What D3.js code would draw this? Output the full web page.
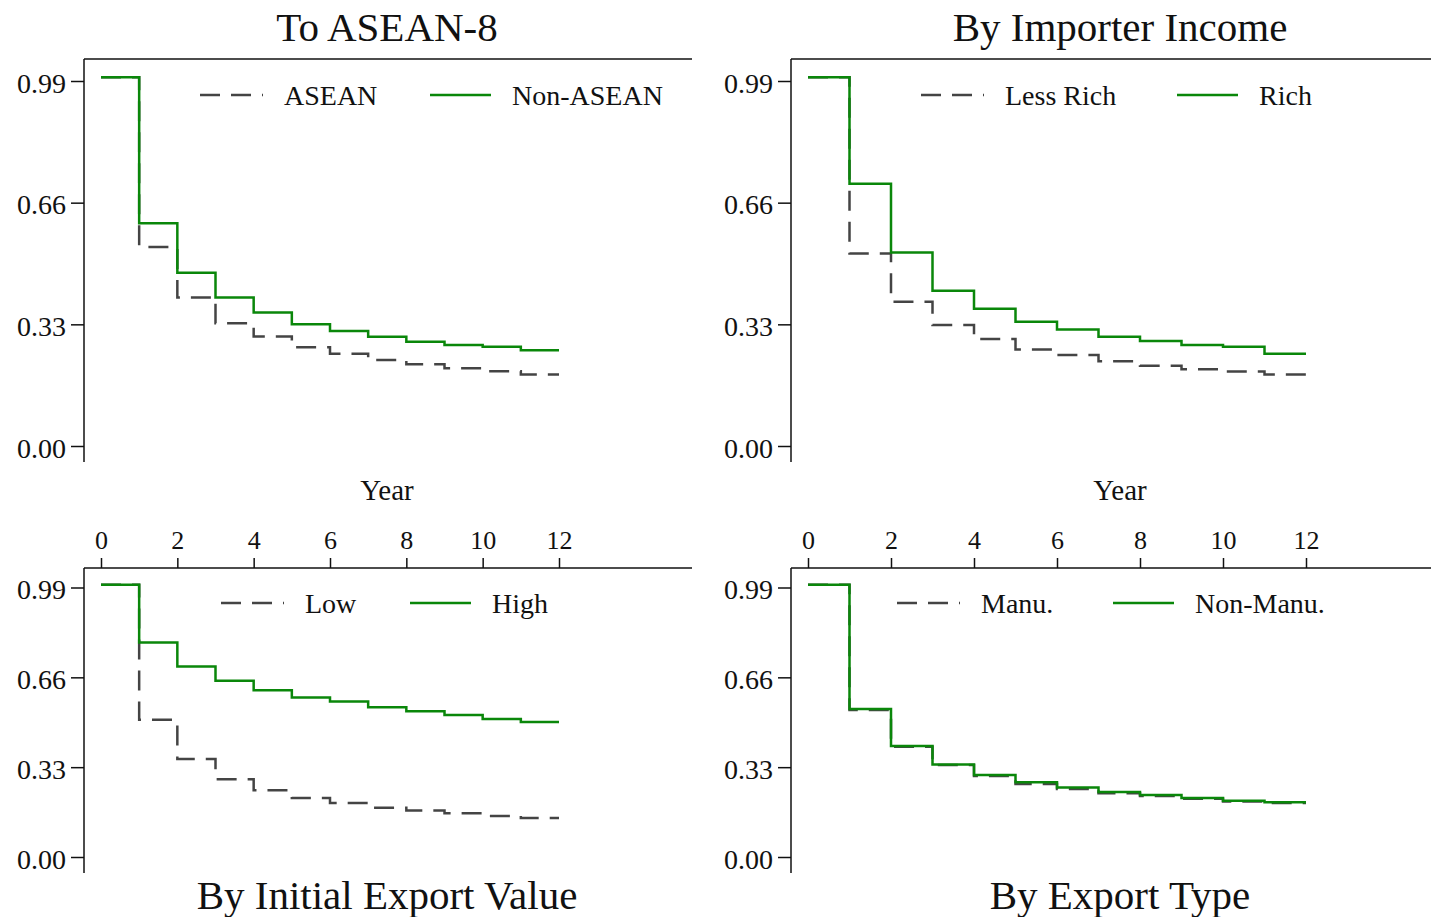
<!DOCTYPE html>
<html>
<head>
<meta charset="utf-8">
<script src="https://cdn.jsdelivr.net/npm/d3@7/dist/d3.min.js"></script>
<style>
  html, body { margin: 0; padding: 0; background: #fff; }
  svg { display: block; }
  text { font-family: "Liberation Serif", "DejaVu Serif", serif; fill: #111; }
</style>
</head>
<body>
<svg id="chart" width="1431" height="917"></svg>
<script>
// ---------------- DATA ----------------
const years = [0, 1, 2, 3, 4, 5, 6, 7, 8, 9, 10, 11, 12];
const xTicks = [0, 2, 4, 6, 8, 10, 12];
const yTicks = [0.00, 0.33, 0.66, 0.99];
const yTickLabels = ["0.00", "0.33", "0.66", "0.99"];

const titles = ["To ASEAN-8", "By Importer Income", "By Initial Export Value", "By Export Type"];
const legendDashed = ["ASEAN", "Less Rich", "Low", "Manu."];
const legendSolid = ["Non-ASEAN", "Rich", "High", "Non-Manu."];
const xAxisTitle = "Year";

// survival estimates at each year (step after), last value held to year 12
const aseanDashed   = [1.00, 0.540, 0.403, 0.333, 0.297, 0.268, 0.250, 0.233, 0.222, 0.211, 0.203, 0.194, 0.194];
const aseanSolid    = [1.00, 0.604, 0.470, 0.403, 0.362, 0.330, 0.312, 0.296, 0.283, 0.274, 0.269, 0.260, 0.260];
const incomeDashed  = [1.00, 0.522, 0.391, 0.328, 0.290, 0.262, 0.247, 0.230, 0.218, 0.208, 0.202, 0.194, 0.194];
const incomeSolid   = [1.00, 0.711, 0.525, 0.421, 0.372, 0.337, 0.316, 0.296, 0.285, 0.274, 0.269, 0.250, 0.250];
const valueDashed   = [1.00, 0.504, 0.360, 0.286, 0.245, 0.217, 0.198, 0.181, 0.171, 0.161, 0.151, 0.143, 0.143];
const valueSolid    = [1.00, 0.788, 0.700, 0.647, 0.613, 0.586, 0.571, 0.550, 0.535, 0.522, 0.507, 0.496, 0.496];
const typeDashed    = [1.00, 0.540, 0.405, 0.338, 0.298, 0.268, 0.250, 0.234, 0.224, 0.214, 0.204, 0.198, 0.198];
const typeSolid     = [1.00, 0.544, 0.408, 0.340, 0.301, 0.275, 0.255, 0.239, 0.228, 0.217, 0.207, 0.201, 0.201];

const dashedSeries = [aseanDashed, incomeDashed, valueDashed, typeDashed];
const solidSeries = [aseanSolid, incomeSolid, valueSolid, typeSolid];

// ---------------- LAYOUT ----------------
const GREEN = "#0a870a";
const GRAY = "#444444";
const svg = d3.select("#chart");

const cols = [
  { axisX: 84, right: 692, x0: 101, x12: 559, center: 387 },
  { axisX: 791, right: 1431, x0: 808, x12: 1306, center: 1120 }
];
const rows = [
  { spine: 59, bottom: 462, y0: 446, y99: 81 },
  { spine: 568, bottom: 873, y0: 857, y99: 587.5 }
];
const legendPos = [
  { d: 200, s: 430, y: 95 },
  { d: 921, s: 1177, y: 95 },
  { d: 221, s: 410, y: 603 },
  { d: 897, s: 1113, y: 603 }
];

const panels = [0, 1, 2, 3].map(i => ({ i, col: cols[i % 2], row: rows[Math.floor(i / 2)] }));

panels.forEach(p => {
  const { i, col, row } = p;
  const x = d3.scaleLinear().domain([0, 12]).range([col.x0, col.x12]);
  const y = d3.scaleLinear().domain([0, 0.99]).range([row.y0, row.y99]);
  const g = svg.append("g");

  // spines
  g.append("line").attr("x1", col.axisX).attr("x2", col.right)
    .attr("y1", row.spine).attr("y2", row.spine)
    .attr("stroke", "#111").attr("stroke-width", 1.5);
  g.append("line").attr("x1", col.axisX).attr("x2", col.axisX)
    .attr("y1", row.spine).attr("y2", row.bottom)
    .attr("stroke", "#111").attr("stroke-width", 1.5);

  // y axis
  const yAxis = d3.axisLeft(y).tickValues(yTicks)
    .tickFormat((d, k) => yTickLabels[k]).tickSize(13).tickPadding(5);
  const ya = g.append("g").attr("transform", `translate(${col.axisX},0)`).call(yAxis);
  ya.select(".domain").remove();
  ya.selectAll("line").attr("stroke", "#111").attr("stroke-width", 1.5);
  ya.selectAll("text").style("font-family", '"Liberation Serif", serif')
    .style("font-size", "28px").attr("fill", "#111").attr("dy", "0.4em");

  // x axis only on bottom row, ticks at top
  if (i >= 2) {
    const xAxis = d3.axisTop(x).tickValues(xTicks).tickFormat(d3.format("d"))
      .tickSize(10).tickPadding(9);
    const xa = g.append("g").attr("transform", `translate(0,${row.spine})`).call(xAxis);
    xa.select(".domain").remove();
    xa.selectAll("line").attr("stroke", "#111").attr("stroke-width", 1.5);
    xa.selectAll("text").style("font-family", '"Liberation Serif", serif')
      .style("font-size", "26px").attr("fill", "#111");
  }

  // curves
  const line = d3.line().x((d, k) => x(years[k])).y(d => y(d)).curve(d3.curveStepAfter);
  g.append("path").datum(dashedSeries[i]).attr("d", line)
    .attr("fill", "none").attr("stroke", GRAY).attr("stroke-width", 2.5)
    .attr("stroke-dasharray", "20,11");
  g.append("path").datum(solidSeries[i]).attr("d", line)
    .attr("fill", "none").attr("stroke", GREEN).attr("stroke-width", 2.5);

  // legend
  const lp = legendPos[i];
  g.append("line").attr("x1", lp.d).attr("x2", lp.d + 63).attr("y1", lp.y).attr("y2", lp.y)
    .attr("stroke", GRAY).attr("stroke-width", 2.5).attr("stroke-dasharray", "20,11");
  g.append("text").attr("x", lp.d + 84).attr("y", lp.y + 10)
    .style("font-size", "28px").text(legendDashed[i]);
  g.append("line").attr("x1", lp.s).attr("x2", lp.s + 61).attr("y1", lp.y).attr("y2", lp.y)
    .attr("stroke", GREEN).attr("stroke-width", 2.5);
  g.append("text").attr("x", lp.s + 82).attr("y", lp.y + 10)
    .style("font-size", "28px").text(legendSolid[i]);

  // titles
  const ty = i < 2 ? 41 : 909;
  g.append("text").attr("x", col.center).attr("y", ty).attr("text-anchor", "middle")
    .style("font-size", "41px").text(titles[i]);

  // Year label (between rows)
  if (i < 2) {
    g.append("text").attr("x", col.center).attr("y", 500).attr("text-anchor", "middle")
      .style("font-size", "29px").text(xAxisTitle);
  }
});
</script>
</body>
</html>
